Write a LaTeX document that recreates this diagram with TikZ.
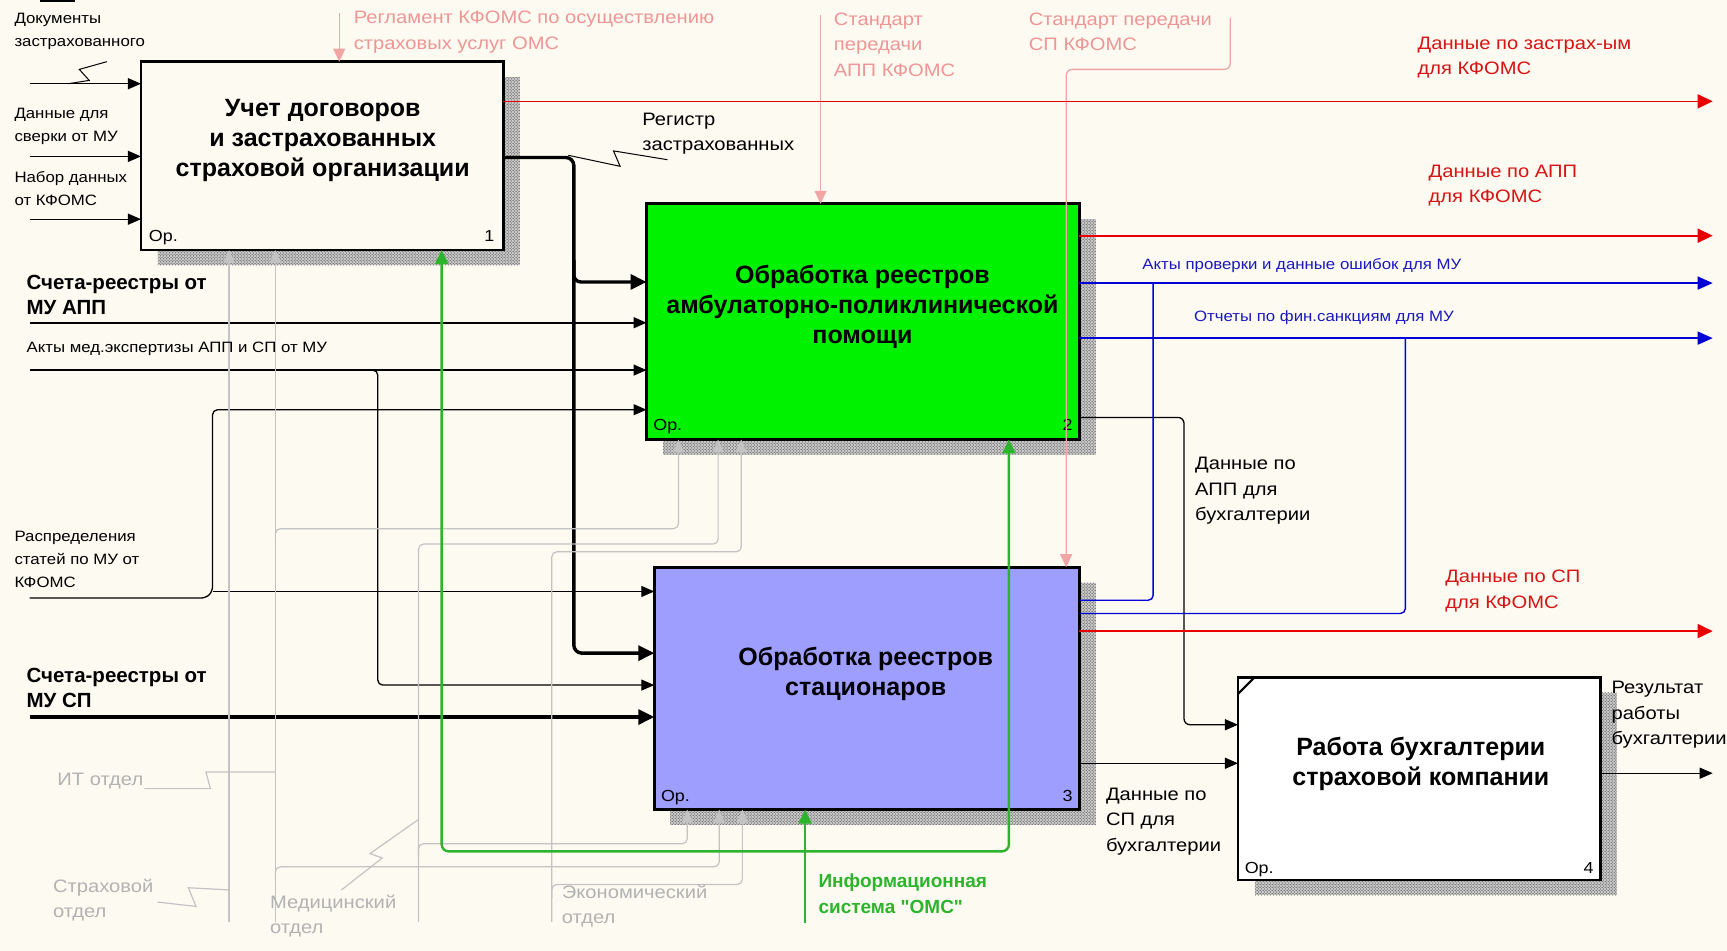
\documentclass[tikz,border=0pt]{standalone}
\usepackage{fontspec}
\setmainfont{Liberation Sans}
\newfontfamily\labfont[FakeStretch=1.12]{Liberation Sans}
\newfontfamily\gfont[Ligatures=TeXOff]{Liberation Sans}
\usetikzlibrary{arrows.meta,patterns}
\definecolor{bgc}{RGB}{253,250,241}
\definecolor{pinkl}{RGB}{242,165,165}
\definecolor{pinkt}{RGB}{238,150,150}
\definecolor{redl}{RGB}{232,0,0}
\definecolor{redt}{RGB}{215,20,20}
\definecolor{bluel}{RGB}{0,0,215}
\definecolor{bluet}{RGB}{25,25,190}
\definecolor{grayl}{RGB}{195,195,195}
\definecolor{grayt}{RGB}{178,178,178}
\definecolor{boxgreen}{RGB}{0,242,0}
\definecolor{boxblue}{RGB}{158,158,255}
\definecolor{greenl}{RGB}{45,180,45}
\begin{document}
\begin{tikzpicture}[x=1.1014pt,y=-1.1014pt,
  box/.style={draw=black,line width=2.6pt,inner sep=0pt,outer sep=0pt},
  shadow/.style={fill=black!22,postaction={pattern=crosshatch dots,pattern color=black!80}},
  ttl/.style={font=\bfseries\fontsize{25}{30}\selectfont,align=center,inner sep=0pt},
  sml/.style={font=\labfont\fontsize{15}{23}\selectfont,align=left,inner sep=0pt,anchor=west},
  med/.style={font=\labfont\fontsize{18}{25.3}\selectfont,align=left,inner sep=0pt,anchor=west},
  bld/.style={font=\bfseries\fontsize{20.5}{25.3}\selectfont,align=left,inner sep=0pt,anchor=west},
  opl/.style={font=\labfont\fontsize{16}{18}\selectfont,inner sep=0pt,anchor=base west},
  opr/.style={font=\labfont\fontsize{16}{18}\selectfont,inner sep=0pt,anchor=base east},
  ln/.style={line width=1.3pt,black},
  tk/.style={line width=3.4pt,black},
  tip/.style={-{Triangle[length=13pt,width=11pt]}},
  tkt/.style={-{Triangle[length=16pt,width=15pt]}},
  pk/.style={line width=1.3pt,pinkl,-{Triangle[length=13pt,width=12pt]}},
  rd/.style={line width=1.6pt,redl,-{Triangle[length=15pt,width=14pt]}},
  bl/.style={line width=1.4pt,bluel},
  blt/.style={-{Triangle[length=15pt,width=13pt]}},
  gr/.style={line width=1.2pt,grayl},
  grt/.style={-{Triangle[length=13pt,width=11pt,fill=grayl]}},
  gn/.style={line width=2.4pt,greenl},
  gnt/.style={-{Triangle[length=14pt,width=13pt]}}
]
\useasboundingbox (0,0) rectangle (1568,863);
\fill[bgc] (0,0) rectangle (1568,863);
\fill[black] (36,0) rectangle (68,2.2);

% shadows
\fill[shadow] (143,70) rectangle (472,241);
\fill[shadow] (602,199) rectangle (995,413);
\fill[shadow] (608,529) rectangle (995,749);
\fill[shadow] (1139,629) rectangle (1468,813);

% boxes
\node[box,fill=bgc,minimum width=362.4pt,minimum height=188.3pt] (b1) at (292.5,141.5) {};
\node[box,fill=boxgreen,minimum width=432.9pt,minimum height=235.7pt] (b2) at (783.5,292) {};
\node[box,fill=boxblue,minimum width=425.1pt,minimum height=242.3pt] (b3) at (787,625) {};
\node[box,fill=white,minimum width=362.4pt,minimum height=202.7pt] (b4) at (1288.5,707) {};
\draw[line width=2pt] (1124,630) -- (1139,615);

\node[ttl] (t1) at (293,128) {Учет договоров\\и застрахованных\\страховой организации};
\node[ttl] (t2) at (783,279) {Обработка реестров\\амбулаторно-поликлинической\\помощи};
\node[ttl] (t3) at (786,612) {Обработка реестров\\стационаров};
\node[ttl] (t4) at (1290,694) {Работа бухгалтерии\\страховой компании};

\node[opl] (o1) at (135,219) {Ор.};
\node[opr] (n1) at (449,219) {1};
\node[opl] (o2) at (593,391) {Ор.};
\node[opr] (n2) at (974,391) {2};
\node[opl] (o3) at (600,728) {Ор.};
\node[opr] (n3) at (974,728) {3};
\node[opl] (o4) at (1130,793) {Ор.};
\node[opr] (n4) at (1447,793) {4};

% inputs to box 1
\coordinate (d1) at (27,76);
\coordinate (d2) at (27,142);
\coordinate (d3) at (27,199);
\draw[ln,tip] (d1) -- (d1 -| b1.west);
\draw[ln,tip] (d2) -- (d2 -| b1.west);
\draw[ln,tip] (d3) -- (d3 -| b1.west);
\draw[ln,line width=1pt] (62,76) -- (81,73) -- (72,63) -- (97,56);

% controls
\coordinate (c1) at (308,12);
\coordinate (c2) at (745,14);
\coordinate (c3) at (1117,16);
\draw[pk] (c1) -- (c1 |- b1.north);
\draw[pk] (c2) -- (c2 |- b2.north);
\draw[pk,rounded corners=6pt] (c3) -- (1117,63) -- (968,63) -- (968,63 |- b3.north);

% box 1 outputs
\coordinate (r1) at (1555,92);
\draw[rd] (b1.east |- r1) -- (r1);
\draw[tk,tkt,rounded corners=8pt] (b1.east |- 0,143) -- (521,143) -- (521,593) -- (b3.west |- 0,593);
\draw[tk,tkt,rounded corners=7pt] (521,236) -- (521,256) -- (b2.west |- 0,256);
\draw[ln,line width=1pt] (516,141) -- (563,151) -- (557,137) -- (606,145);

% inputs to box 2 and 3
\coordinate (s1) at (27,293);
\draw[line width=1.8pt,tip] (s1) -- (s1 -| b2.west);
\coordinate (a1) at (27,336);
\draw[ln,tip] (a1) -- (a1 -| b2.west);
\draw[ln,tip,rounded corners=5pt] (336,336) -- (343,336) -- (343,622) -- (b3.west |- 0,622);
\coordinate (p1) at (27,543);
\draw[ln,tip,rounded corners=5pt] (p1) -- (187,543) -- (193,537) -- (193,372) -- (b2.west |- 0,372);
\draw[ln,tip] (193,537) -- (b3.west |- 0,537);
\coordinate (s2) at (27,651);
\draw[tk,tkt] (s2) -- (s2 -| b3.west);

% box 2 outputs
\coordinate (r2) at (1555,214);
\draw[rd] (b2.east |- r2) -- (r2);
\coordinate (u1) at (1555,257);
\coordinate (u2) at (1555,307);
\draw[bl,blt] (b2.east |- u1) -- (u1);
\draw[bl,blt] (b2.east |- u2) -- (u2);
\draw[ln,tip,rounded corners=6pt] (b2.east |- 0,379) -- (1075,379) -- (1075,658) -- (b4.west |- 0,658);

% box 3 outputs
\draw[bl,rounded corners=5pt] (b3.east |- 0,545) -- (1047,545) -- (1047,257);
\draw[bl,rounded corners=5pt] (b3.east |- 0,557) -- (1276,557) -- (1276,307);
\coordinate (r3) at (1555,573);
\draw[rd] (b3.east |- r3) -- (r3);
\draw[ln,tip] (b3.east |- 0,693) -- (b4.west |- 0,693);

% box 4 output
\coordinate (e4) at (1555,702);
\draw[ln,tip] (b4.east |- e4) -- (e4);

% mechanisms (gray)
\coordinate (m1) at (208,837);
\coordinate (m2) at (250,837);
\coordinate (m3) at (380,837);
\coordinate (m4) at (501,837);
\draw[gr,grt] (m1) -- (m1 |- b1.south);
\draw[gr,grt] (m2) -- (m2 |- b1.south);
\draw[gr,grt,rounded corners=5pt] (250,492) -- (250,480) -- (616,480) -- (616,480 |- b2.south);
\draw[gr,grt,rounded corners=5pt] (250,799) -- (250,787) -- (653,787) -- (653,787 |- b3.south);
\draw[gr,grt,rounded corners=5pt] (m3) -- (380,494) -- (652,494) -- (652,494 |- b2.south);
\draw[gr,grt,rounded corners=5pt] (380,778) -- (380,766) -- (624,766) -- (624,766 |- b3.south);
\draw[gr,grt,rounded corners=5pt] (m4) -- (501,501) -- (673,501) -- (673,501 |- b2.south);
\draw[gr,grt,rounded corners=5pt] (501,815) -- (501,803) -- (674,803) -- (674,803 |- b3.south);
\draw[gr] (131,716) -- (191,716) -- (187,701) -- (250,701);
\draw[gr] (143,819) -- (178,823) -- (171,806) -- (208,808);
\draw[gr] (310,808) -- (347,779) -- (336,775) -- (380,744);

% green mechanism
\coordinate (g0) at (731,838);
\draw[gn,gnt] (g0) -- (g0 |- b3.south);
\draw[gn,gnt,rounded corners=7pt] (731,773) -- (401,773) -- (401,773 |- b1.south);
\draw[gn,gnt,rounded corners=7pt] (731,773) -- (916,773) -- (916,773 |- b2.south);

% labels
\node[sml] (L1) at (13,28.5) {Документы\\застрахованного};
\node[sml] (L2) at (13,114.5) {Данные для\\сверки от МУ};
\node[sml] (L3) at (13,171.5) {Набор данных\\от КФОМС};
\node[med,text=pinkt] (L4) at (321,29) {Регламент КФОМС по осуществлению\\страховых услуг ОМС};
\node[med,text=pinkt] (L5) at (757,40.5) {Стандарт\\передачи\\АПП КФОМС};
\node[med,text=pinkt] (L6) at (934,29) {Стандарт передачи\\СП КФОМС};
\node[med,text=redt] (L7) at (1287,52.5) {Данные по застрах-ым\\для КФОМС};
\node[med] (L8) at (583,121.5) {Регистр\\застрахованных};
\node[med,text=redt] (L9) at (1297,168.5) {Данные по АПП\\для КФОМС};
\node[sml,text=bluet] (L10) at (1037,241) {Акты проверки и данные ошибок для МУ};
\node[sml,text=bluet] (L11) at (1084,288) {Отчеты по фин.санкциям для МУ};
\node[bld] (L12) at (24,267.5) {Счета-реестры от\\МУ АПП};
\node[sml] (L13) at (24,317) {Акты мед.экспертизы АПП и СП от МУ};
\node[sml] (L14) at (13,507.5) {Распределения\\статей по МУ от\\КФОМС};
\node[med] (L15) at (1085,445.5) {Данные по\\АПП для\\бухгалтерии};
\node[med,text=redt] (L16) at (1312,536.5) {Данные по СП\\для КФОМС};
\node[bld] (L17) at (24,624.5) {Счета-реестры от\\МУ СП};
\node[med,text=grayt] (L18) at (52,709) {ИТ отдел};
\node[med,text=grayt] (L19) at (48,817) {Страховой\\отдел};
\node[med,text=grayt] (L20) at (245,832) {Медицинский\\отдел};
\node[med,text=grayt] (L21) at (510,822.5) {Экономический\\отдел};
\node[med] (L22) at (1004,746) {Данные по\\СП для\\бухгалтерии};
\node[bld,text=greenl,font=\gfont\bfseries\fontsize{19}{25.3}\selectfont] (L23) at (743,811.5) {Информационная\\система "ОМС"};
\node[med] (L24) at (1463,649) {Результат\\работы\\бухгалтерии};
\end{tikzpicture}
\end{document}
